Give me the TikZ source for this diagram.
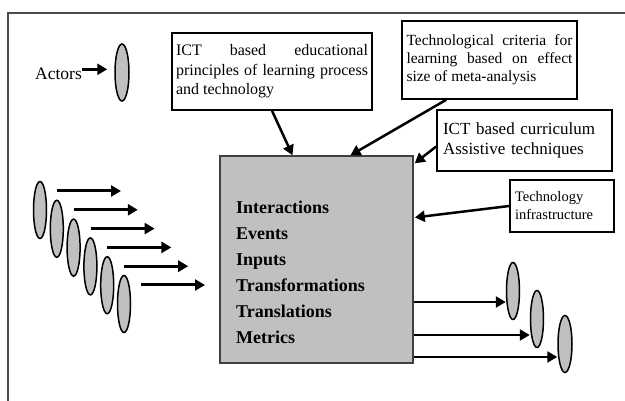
\documentclass[tikz,border=0pt]{standalone}
\usepackage{fontspec}
\setmainfont{Liberation Serif}
\usepackage{xcolor}
\usepackage{tikz}
\usetikzlibrary{calc, arrows.meta, shapes.geometric}

\definecolor{boxgrey}{HTML}{C0C0C0}
\tolerance=10000
\hyphenpenalty=10000

\begin{document}
\begin{tikzpicture}[x=1pt, y=-1pt,
		actor/.style = {ellipse, draw, line width=1.5pt, fill=boxgrey, minimum width=13pt, minimum height=57pt, inner sep=0pt},
		textbox/.style = {draw, line width=1.6pt, align=justify, inner ysep=0pt},
		flow/.style = {line width=3pt, -{Triangle[length=10pt, width=11pt]}},
		feed/.style = {line width=2.5pt, -{Triangle[length=10pt, width=11pt]}}
	]
	\useasboundingbox (0,0) rectangle (625,401);
	\draw[line width=1.5pt, black!70] (8,401) -- (8,13) -- (625,13);
	
	\node[actor, minimum width=14pt] (actor) at (122,72.5) {};
	\node[anchor=base west, inner sep=0pt, font=\fontsize{17.5}{20}\selectfont] (actors) at (35,80) {Actors};
	\coordinate (ain) at ([yshift=5pt]actors.east);
	\draw[flow, line width=2.5pt, shorten >=7pt] (ain) -- (ain -| actor.west);
	
	\foreach \i in {1,...,6}
		\node[actor] (a\i) at ({40+16.8*(\i-1)}, {210+18.8*(\i-1)}) {};
	\foreach \i in {1,...,6}
		\draw[flow] ($(a\i.center)+(17,-19)$) -- ++(64,0);
	
	\node[draw=black!75, line width=1.5pt, fill=boxgrey, minimum width=193pt, minimum height=207pt] (core) at (316.5,259.5) {};
	\node[anchor=north west, inner sep=0pt, align=left, font=\fontsize{18}{26}\selectfont\bfseries] (steps) at (236,201) {Interactions\\Events\\Inputs\\Transformations\\Translations\\Metrics};
	
	\node[textbox, text width=192pt, inner xsep=4pt, minimum height=77pt, font=\fontsize{16}{19.5}\selectfont] (icp) at (272,71.5) {ICT based educational principles of learning process and technology};
	\node[textbox, text width=166pt, inner xsep=4.5pt, minimum height=78pt, font=\fontsize{15.5}{18}\selectfont] (crit) at (489.5,60) {Technological criteria for learning based on effect size of meta-analysis};
	\node[textbox, align=left, text width=163pt, inner xsep=6pt, minimum height=61pt, font=\fontsize{17}{20}\selectfont] (curr) at (524.5,140.5) {ICT based curriculum\\Assistive techniques};
	\node[textbox, align=left, text width=94pt, inner xsep=5pt, minimum height=52pt, font=\fontsize{14.5}{18}\selectfont] (infra) at (562,206) {Technology\\infrastructure};
	
	\begin{scope}[feed]
		\draw (icp.south) -- ($(core.north)+(-24,0)$);
		\draw ($(crit.south west)+(45,0)$) -- ($(core.north)+(34,0)$);
		\draw ($(curr.west)+(0,6)$) -- ($(core.north east)+(1,8)$);
		\draw (infra.west) -- ($(core.east)+(1,-42)$);
	\end{scope}
	
	\node[actor] (r1) at (513,291) {};
	\node[actor] (r2) at (537,319) {};
	\node[actor, minimum width=14pt] (r3) at (565,344) {};
	\coordinate (t1) at ([yshift=-11pt]r1.west);
	\coordinate (t2) at ([yshift=-16pt]r2.west);
	\coordinate (t3) at ([yshift=-13pt]r3.west);
	\foreach \i in {1,2,3}
		\draw[feed] (core.east |- t\i) -- (t\i);
\end{tikzpicture}
\end{document}
